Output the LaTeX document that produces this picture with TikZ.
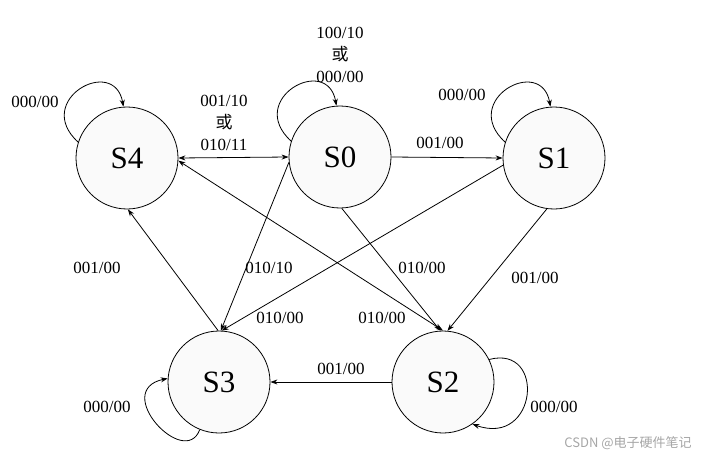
\documentclass[tikz,border=0pt]{standalone}
\usepackage{fontspec}
\setmainfont{Liberation Serif}
\newfontfamily\cjk{Noto Sans CJK SC}
\usetikzlibrary{arrows.meta}
\begin{document}
\begin{tikzpicture}[x=1pt,y=1pt,line width=.8pt,
  state/.style={circle,draw,fill=gray!4,minimum size=102pt,inner sep=0pt,font=\fontsize{31}{31}\selectfont},
  tr/.style={-{Stealth[length=7pt,width=5pt]}},
  trb/.style={{Stealth[length=7pt,width=5pt]}-{Stealth[length=7pt,width=5pt]}},
  lbl/.style={font=\fontsize{17}{22}\selectfont,align=center,inner sep=0pt}]
\useasboundingbox (0,0) rectangle (703,456);
% states
\node[state] (S4) at (127,298) {S4};
\node[state] (S0) at (340,299) {S0};
\node[state] (S1) at (554,298) {S1};
\node[state] (S3) at (219,74) {S3};
\node[state] (S2) at (443,74) {S2};
% self loops
\draw[tr] (S4.162) .. controls +(-46,42) and +(-9,52) .. (S4.94);
\draw[tr] (S0.162) .. controls +(-46,42) and +(-9,52) .. (S0.94);
\draw[tr] (S1.162) .. controls +(-46,42) and +(-9,52) .. (S1.94);
\draw[tr] (S3.248) .. controls +(-15,-40) and +(-57,-12) .. (S3.176);
\draw[tr] (S2.26) .. controls +(57,15) and +(65,-23) .. (S2.305);
% transitions
\draw[trb] (S4.east) -- (S0.west);
\draw[tr] (S0.east) -- (S1.west);
\draw[tr] (S2.west) -- (S3.east);
\draw[tr] (S1.262) -- (S2.85);
\draw[tr] (S0.272) -- (S2.93);
\draw[trb] (S4.-3) -- (S2.90);
\draw[tr] (S1.188) -- (S3.87);
\draw[tr] (S0.186) -- (S3.88);
\draw[tr] (S3.91) -- (S4.271);
% labels
\node[lbl] (l44) at (35,354) {000/00};
\node[lbl] (l00) at (340,401) {100/10\\{\cjk 或}\\000/00};
\node[lbl] (l11) at (462,361) {000/00};
\node[lbl] (l40) at (224,333) {001/10\\{\cjk 或}\\010/11};
\node[lbl] (l01) at (440,313) {001/00};
\node[lbl] (l34) at (97,188) {001/00};
\node[lbl] (l03) at (269,188) {010/10};
\node[lbl] (l02) at (422,188) {010/00};
\node[lbl] (l12) at (535,178) {001/00};
\node[lbl] (l13) at (280,138) {010/00};
\node[lbl] (l42) at (382,138) {010/00};
\node[lbl] (l23) at (341,87) {001/00};
\node[lbl] (l33) at (107,49) {000/00};
\node[lbl] (l22) at (554,49) {000/00};
\node[inner sep=0pt,text=gray!70,font=\cjk\fontsize{13}{13}\selectfont] (mark) at (628,13) {CSDN @电子硬件笔记};
\end{tikzpicture}
\end{document}
